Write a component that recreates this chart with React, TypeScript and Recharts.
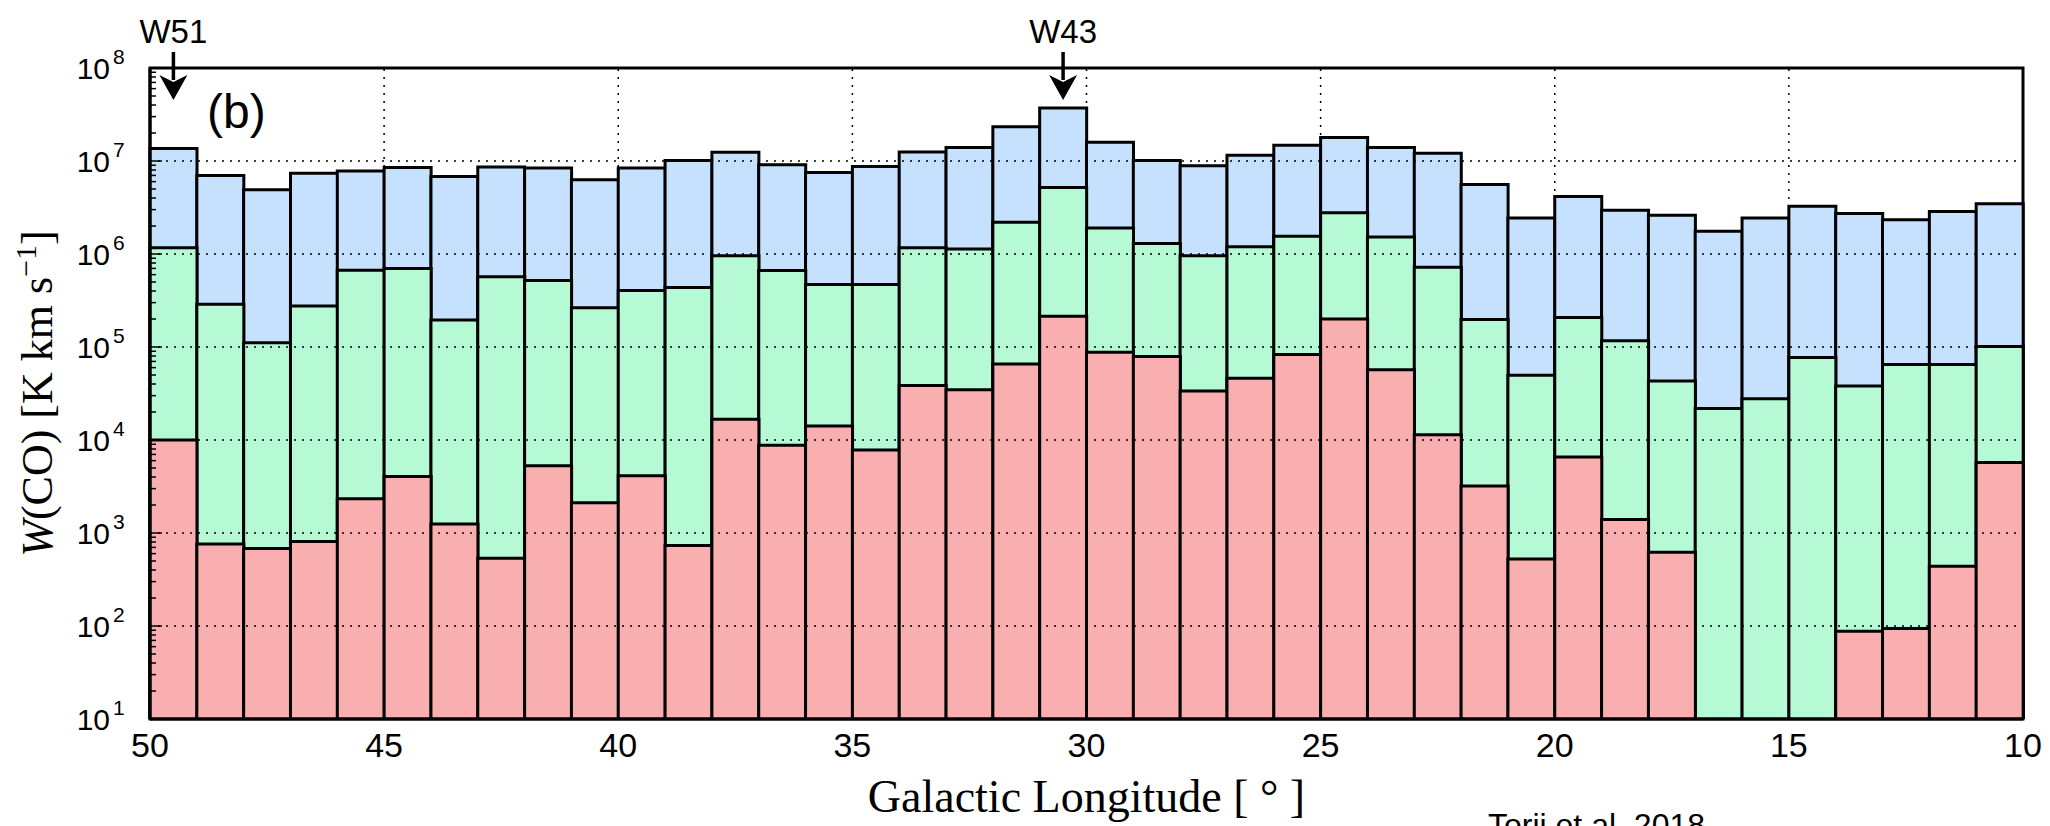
import React from 'react';
import { ComposedChart, Bar, XAxis, YAxis, ReferenceLine, ReferenceArea } from 'recharts';

// 1-degree longitude bins, listed from l = 50 down to l = 10
const binCenters = [
  49.5, 48.5, 47.5, 46.5, 45.5, 44.5, 43.5, 42.5, 41.5, 40.5,
  39.5, 38.5, 37.5, 36.5, 35.5, 34.5, 33.5, 32.5, 31.5, 30.5,
  29.5, 28.5, 27.5, 26.5, 25.5, 24.5, 23.5, 22.5, 21.5, 20.5,
  19.5, 18.5, 17.5, 16.5, 15.5, 14.5, 13.5, 12.5, 11.5, 10.5,
];

// integrated W(CO) per bin, K km/s
const wcoAll = [
  1.36e7, 7.0e6, 4.9e6, 7.4e6, 7.8e6, 8.5e6, 6.8e6, 8.6e6, 8.4e6, 6.3e6,
  8.4e6, 1.01e7, 1.24e7, 9.1e6, 7.5e6, 8.7e6, 1.25e7, 1.4e7, 2.33e7, 3.72e7,
  1.59e7, 1.01e7, 8.9e6, 1.15e7, 1.48e7, 1.79e7, 1.4e7, 1.21e7, 5.6e6, 2.44e6,
  4.15e6, 2.96e6, 2.61e6, 1.76e6, 2.44e6, 3.26e6, 2.72e6, 2.34e6, 2.86e6, 3.47e6,
];
const wcoMid = [
  1.17e6, 2.88e5, 1.11e5, 2.76e5, 6.7e5, 7.0e5, 1.95e5, 5.7e5, 5.2e5, 2.65e5,
  4.05e5, 4.36e5, 9.6e5, 6.65e5, 4.7e5, 4.7e5, 1.17e6, 1.13e6, 2.2e6, 5.2e6,
  1.9e6, 1.3e6, 9.6e5, 1.2e6, 1.55e6, 2.78e6, 1.52e6, 7.2e5, 1.97e5, 4.97e4,
  2.07e5, 1.17e5, 4.3e4, 2.18e4, 2.78e4, 7.7e4, 3.8e4, 6.5e4, 6.5e4, 1.01e5,
];
const wcoHigh = [
  1.0e4, 760, 680, 810, 2330, 4040, 1250, 536, 5270, 2120,
  4130, 736, 1.67e4, 8770, 1.41e4, 7800, 3.86e4, 3.47e4, 6.55e4, 2.14e5,
  8.8e4, 7.9e4, 3.36e4, 4.6e4, 8.3e4, 2.0e5, 5.7e4, 1.14e4, 3200, 525,
  6580, 1400, 621, null, null, null, 88, 94, 438, 5740,
];

const lonTicks = [50, 45, 40, 35, 30, 25, 20, 15, 10];
const lonGrid = [45, 40, 35, 30, 25, 20, 15];
const decadeExps = [1, 2, 3, 4, 5, 6, 7, 8];
const minorFactors = [2, 3, 4, 5, 6, 7, 8, 9];
const markers = [
  { name: 'W51', l: 49.5 },
  { name: 'W43', l: 30.5 },
];

const majorTicks = decadeExps.map((e) => 10 ** e);
const yTicks = [
  ...majorTicks,
  ...decadeExps.slice(0, -1).flatMap((e) => minorFactors.map((f) => f * 10 ** e)),
].sort((a, b) => a - b);

const data = binCenters.map((l, i) => ({
  l,
  all: wcoAll[i],
  mid: wcoMid[i],
  high: wcoHigh[i],
}));

const SANS = '"Liberation Sans", Arial, Helvetica, sans-serif';
const SERIF = '"Liberation Serif", "Times New Roman", serif';
const gridDash = '2 6';

const LeftTick = (props: any) => {
  const { x, y, payload } = props;
  const v = payload.value;
  const major = majorTicks.includes(v);
  const exp = Math.round(Math.log10(v));
  return (
    <g>
      <line x1={x} x2={x + (major ? 12 : 6)} y1={y} y2={y} stroke="#000" strokeWidth={1.5} />
      {major && (
        <>
          <text x={x - 40} y={y + 11} textAnchor="end" fontSize={30} fontFamily={SANS} fill="#000">
            10
          </text>
          <text x={x - 37} y={y - 4} textAnchor="start" fontSize={21} fontFamily={SANS} fill="#000">
            {exp}
          </text>
        </>
      )}
    </g>
  );
};

const RightTick = (props: any) => {
  const { x, y, payload } = props;
  const major = majorTicks.includes(payload.value);
  return <line x1={x} x2={x - (major ? 12 : 6)} y1={y} y2={y} stroke="#000" strokeWidth={1.5} />;
};

const LonTick = (props: any) => {
  const { x, y, payload } = props;
  return (
    <text x={x} y={y + 38} textAnchor="middle" fontSize={34} fontFamily={SANS} fill="#000">
      {payload.value}
    </text>
  );
};

const YLabel = (props: any) => {
  const { viewBox } = props;
  const cx = viewBox.x + 52;
  const cy = viewBox.y + viewBox.height / 2;
  return (
    <text
      x={cx}
      y={cy}
      transform={`rotate(-90, ${cx}, ${cy})`}
      textAnchor="middle"
      fontSize={44}
      fontFamily={SERIF}
      fill="#000"
    >
      <tspan fontStyle="italic">W</tspan>
      <tspan>(CO) [K km s</tspan>
      <tspan fontSize={30} dy={-16}>−1</tspan>
      <tspan dy={16}>]</tspan>
    </text>
  );
};

const XLabel = (props: any) => {
  const { viewBox } = props;
  return (
    <text
      x={viewBox.x + viewBox.width / 2}
      y={viewBox.y + 93}
      textAnchor="middle"
      fontSize={46}
      fontFamily={SERIF}
      fill="#000"
    >
      Galactic Longitude [ ° ]
    </text>
  );
};

const MarkerLabel = (props: any) => {
  const { viewBox, name } = props;
  const x = viewBox.x;
  const top = viewBox.y;
  return (
    <g>
      <text x={x} y={top - 25} textAnchor="middle" fontSize={33} fontFamily={SANS} fill="#000">
        {name}
      </text>
      <line x1={x} x2={x} y1={top - 16} y2={top + 12} stroke="#000" strokeWidth={3.5} />
      <path
        d={`M ${x - 14} ${top + 7} L ${x} ${top + 14} L ${x + 14} ${top + 7} L ${x} ${top + 32} Z`}
        fill="#000"
      />
    </g>
  );
};

const PanelLabel = (props: any) => {
  const { viewBox } = props;
  return (
    <text x={viewBox.x + 57} y={viewBox.y + 60} fontSize={48} fontFamily={SANS} fill="#000">
      (b)
    </text>
  );
};

export default function App() {
  return (
    <div style={{ position: 'absolute', left: 0, top: 0, width: 2050, height: 826, background: '#fff' }}>
      <ComposedChart
        width={2050}
        height={826}
        data={data}
        margin={{ top: 68, right: 27, bottom: 0, left: 0 }}
        barCategoryGap={0}
        barGap={0}
      >
        <XAxis xAxisId="b1" dataKey="l" hide height={0} />
        <XAxis xAxisId="b2" dataKey="l" hide height={0} />
        <XAxis xAxisId="b3" dataKey="l" hide height={0} />
        <XAxis
          xAxisId="lon"
          dataKey="l"
          type="number"
          domain={[10, 50]}
          allowDataOverflow
          reversed
          ticks={lonTicks}
          interval={0}
          tickSize={0}
          tickMargin={0}
          tickLine={false}
          tick={<LonTick />}
          axisLine={{ stroke: '#000', strokeWidth: 3 }}
          height={107}
          label={{ content: (p: any) => <XLabel {...p} /> }}
        />
        <YAxis
          yAxisId="left"
          scale="log"
          type="number"
          domain={[10, 1e8]}
          allowDataOverflow
          ticks={yTicks}
          interval={0}
          tickSize={0}
          tickMargin={0}
          tickLine={false}
          tick={<LeftTick />}
          axisLine={{ stroke: '#000', strokeWidth: 3 }}
          width={150}
          label={{ content: (p: any) => <YLabel {...p} /> }}
        />
        <YAxis
          yAxisId="right"
          orientation="right"
          scale="log"
          type="number"
          domain={[10, 1e8]}
          allowDataOverflow
          ticks={yTicks}
          interval={0}
          tickSize={0}
          tickMargin={0}
          tickLine={false}
          tick={<RightTick />}
          axisLine={{ stroke: '#000', strokeWidth: 3 }}
          width={0}
        />
        <Bar xAxisId="b1" yAxisId="left" dataKey="all" fill="#c6e1fd" stroke="#000" strokeWidth={3} isAnimationActive={false} />
        <Bar xAxisId="b2" yAxisId="left" dataKey="mid" fill="#b6f9d5" stroke="#000" strokeWidth={3} isAnimationActive={false} />
        <Bar xAxisId="b3" yAxisId="left" dataKey="high" fill="#f9aeb0" stroke="#000" strokeWidth={3} isAnimationActive={false} />
        {majorTicks.slice(1, -1).map((v) => (
          <ReferenceLine key={`h${v}`} xAxisId="lon" yAxisId="left" y={v} stroke="#000" strokeWidth={1.5} strokeDasharray={gridDash} />
        ))}
        {lonGrid.map((l) => (
          <ReferenceLine key={`v${l}`} xAxisId="lon" yAxisId="left" x={l} stroke="#000" strokeWidth={1.5} strokeDasharray={gridDash} />
        ))}
        <ReferenceArea
          xAxisId="lon"
          yAxisId="left"
          x1={50}
          x2={10}
          y1={10}
          y2={1e8}
          fill="none"
          fillOpacity={0}
          stroke="#000"
          strokeWidth={3}
          label={{ content: (p: any) => <PanelLabel {...p} /> }}
        />
        {markers.map((m) => (
          <ReferenceLine
            key={m.name}
            xAxisId="lon"
            yAxisId="left"
            x={m.l}
            stroke="none"
            label={{ content: (p: any) => <MarkerLabel {...p} name={m.name} /> }}
          />
        ))}
      </ComposedChart>
      <svg
        width={2050}
        height={826}
        style={{ position: 'absolute', left: 0, top: 0, pointerEvents: 'none' }}
      >
        <text x={1488} y={836} fontSize={32} fontFamily={SANS} fill="#000">
          Torii et al. 2018
        </text>
      </svg>
    </div>
  );
}
